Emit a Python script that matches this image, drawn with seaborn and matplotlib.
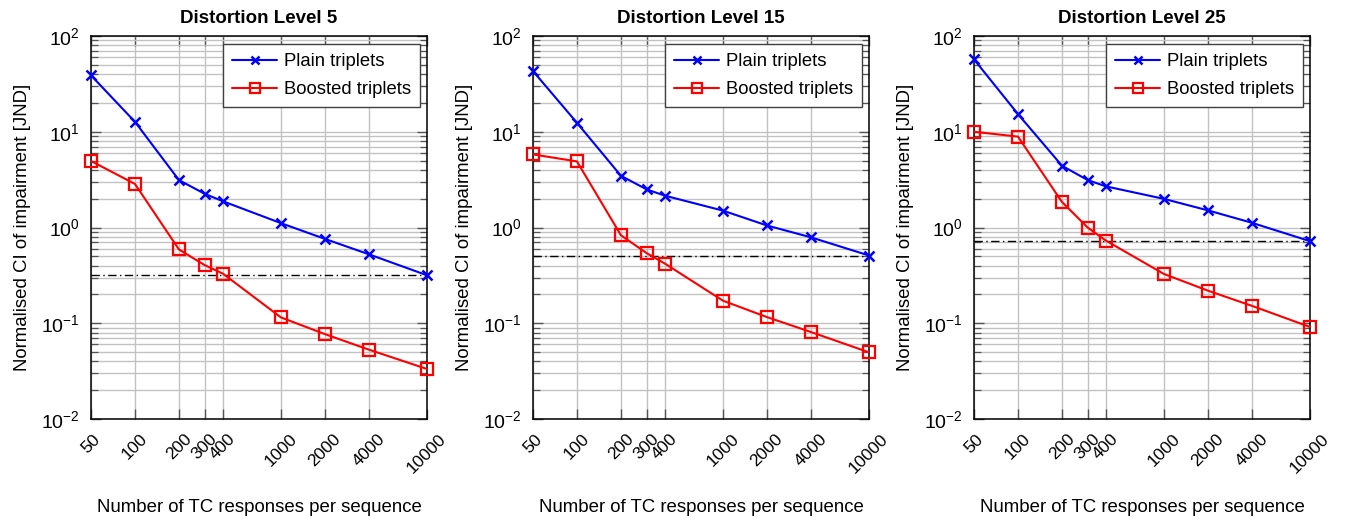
import numpy as np
import pandas as pd
import matplotlib
matplotlib.use("Agg")
import matplotlib.pyplot as plt
import matplotlib.ticker as mticker
import seaborn as sns

# ---------------- data ----------------
responses = [50, 100, 200, 300, 400, 1000, 2000, 4000, 10000]
tick_labels = ["50", "100", "200", "300", "400", "1000", "2000", "4000", "10000"]
titles = ["Distortion Level 5", "Distortion Level 15", "Distortion Level 25"]

plain_5 = [38.8, 12.7, 3.13, 2.25, 1.88, 1.11, 0.76, 0.525, 0.317]
boosted_5 = [4.95, 2.85, 0.59, 0.405, 0.33, 0.115, 0.077, 0.053, 0.0333]
plain_15 = [43.0, 12.4, 3.47, 2.5, 2.15, 1.5, 1.05, 0.79, 0.51]
boosted_15 = [5.8, 4.9, 0.83, 0.54, 0.42, 0.172, 0.116, 0.081, 0.0497]
plain_25 = [57.0, 15.3, 4.42, 3.13, 2.69, 1.99, 1.51, 1.12, 0.72]
boosted_25 = [10.0, 8.9, 1.85, 1.0, 0.73, 0.327, 0.219, 0.152, 0.0914]
thresholds = [0.317, 0.51, 0.72]

plain_all = [plain_5, plain_15, plain_25]
boosted_all = [boosted_5, boosted_15, boosted_25]

# ---------------- style ----------------
sns.set_theme(style="ticks")
plt.rcParams["font.family"] = ["Liberation Sans", "DejaVu Sans"]
plt.rcParams["mathtext.fontset"] = "custom"
plt.rcParams["mathtext.rm"] = "Liberation Sans"
plt.rcParams["mathtext.it"] = "Liberation Sans:italic"
plt.rcParams["mathtext.bf"] = "Liberation Sans:bold"
plt.rcParams["text.color"] = "black"
plt.rcParams["axes.labelcolor"] = "black"
plt.rcParams["axes.titlecolor"] = "black"
plt.rcParams["xtick.labelcolor"] = "black"
plt.rcParams["ytick.labelcolor"] = "black"

fig = plt.figure(figsize=(13.45, 5.23), dpi=100)
lefts = [91, 533, 974]
W, H = 1345.0, 523.0
ax_w = 336 / W
ax_b = 1 - 419 / H
ax_h = (419 - 36) / H

for i in range(3):
    ax = fig.add_axes([lefts[i] / W, ax_b, ax_w, ax_h])
    df_p = pd.DataFrame({"n": responses, "ci": plain_all[i]})
    df_b = pd.DataFrame({"n": responses, "ci": boosted_all[i]})

    ax.set_xscale("log")
    ax.set_yscale("log")

    ax.axhline(thresholds[i], color="black", lw=1.0, ls=(0, (6, 2.5, 1, 2.5)), zorder=2)

    sns.lineplot(data=df_p, x="n", y="ci", ax=ax, color="#0000ff", lw=1.5,
                 marker="x", markersize=7, markeredgewidth=1.8,
                 markeredgecolor="#0000ff",
                 label="Plain triplets", zorder=4, clip_on=False)
    sns.lineplot(data=df_b, x="n", y="ci", ax=ax, color="#ff0000", lw=1.5,
                 marker="s", markersize=8.5, markeredgewidth=1.6,
                 markerfacecolor="none", markeredgecolor="#ff0000",
                 label="Boosted triplets", zorder=3, clip_on=False)

    ax.set_xlim(50, 10000)
    ax.set_ylim(1e-2, 1e2)

    ax.xaxis.set_major_locator(mticker.FixedLocator(responses))
    ax.xaxis.set_minor_locator(mticker.NullLocator())
    ax.set_xticklabels(tick_labels, rotation=45, ha="center", va="top", fontsize=12.5)
    ax.yaxis.set_major_locator(mticker.LogLocator(base=10, numticks=10))
    ax.yaxis.set_minor_locator(mticker.LogLocator(base=10, subs=np.arange(2, 10), numticks=20))
    ax.yaxis.set_minor_formatter(mticker.NullFormatter())

    ax.grid(True, which="major", axis="both", color="#c2c2c2", lw=1.0, zorder=0)
    ax.grid(True, which="minor", axis="y", color="#c2c2c2", lw=1.0, zorder=0)
    ax.set_axisbelow(True)

    ax.tick_params(which="major", direction="in", length=7.5, width=1.0,
                   color="#555555", top=True, right=True)
    ax.tick_params(axis="x", which="major", pad=9, labelsize=12.5)
    ax.tick_params(which="minor", direction="in", length=5, width=0.9,
                   color="#555555", left=True, right=True)
    ax.tick_params(axis="y", which="major", labelsize=14, pad=8)
    for sp in ax.spines.values():
        sp.set_color("black")
        sp.set_linewidth(1.1)
        sp.set_visible(True)

    ax.set_title(titles[i], fontsize=13.5, fontweight="bold", pad=9)
    ax.set_xlabel("Number of TC responses per sequence", fontsize=13.4)
    ax.xaxis.set_label_coords(0.5, -0.232)
    ax.xaxis.label.set_va("center")
    ax.set_ylabel("Normalised CI of impairment [JND]", fontsize=13.4)
    ax.yaxis.set_label_coords(-0.205, 0.5)
    ax.yaxis.label.set_va("center")

    leg = ax.legend(loc="upper right", bbox_to_anchor=(0.98, 0.979), borderaxespad=0,
                    fontsize=13.3, frameon=True, fancybox=False, framealpha=1,
                    edgecolor="#404040", handlelength=2.45, handletextpad=0.35,
                    labelspacing=0.58, borderpad=0.5)
    leg.get_frame().set_linewidth(1.0)
    hs = leg.legend_handles
    hs[0].set_markersize(5.5)
    hs[1].set_markersize(7)

fig.savefig("out.png", dpi=100)
